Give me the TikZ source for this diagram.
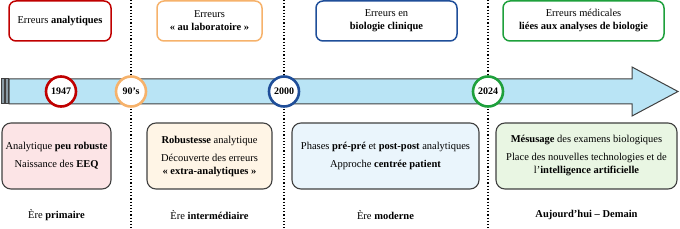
\documentclass[tikz,border=0pt]{standalone}
\usepackage{fontspec}
\setmainfont{Liberation Serif}
\definecolor{cred}{HTML}{C00000}
\definecolor{corange}{HTML}{F6B26B}
\definecolor{cblue}{HTML}{1F4E99}
\definecolor{cgreen}{HTML}{1EA03C}
\definecolor{fpink}{HTML}{FCE4E6}
\definecolor{fcream}{HTML}{FFF5E6}
\definecolor{fblue}{HTML}{EAF5FC}
\definecolor{fgreen}{HTML}{E9F6E3}
\definecolor{arrowfill}{HTML}{B9E4F5}
\definecolor{darkline}{HTML}{404040}
\definecolor{stripe}{HTML}{8C9CA6}
\begin{document}
\begin{tikzpicture}[x=1pt,y=-1pt,
  topbox/.style={draw, line width=1.5pt, rounded corners=7pt, fill=white, minimum height=40pt, align=center, inner sep=2pt, font=\fontsize{10.5}{13}\selectfont},
  botbox/.style={draw=darkline, line width=1.1pt, rounded corners=9pt, minimum height=66pt, align=center, inner sep=2pt, font=\fontsize{10.5}{13}\selectfont},
  yearcirc/.style={circle, draw, line width=2.6pt, fill=white, minimum size=30pt, inner sep=0pt, font=\bfseries\fontsize{10}{11}\selectfont},
  eralabel/.style={font=\fontsize{10.5}{12}\selectfont},
  sep/.style={dotted, line width=1.2pt, black}]
\useasboundingbox (0,0) rectangle (680,229);
% separators
\coordinate (s1t) at (131,0); \coordinate (s1b) at (131,229);
\coordinate (s2t) at (284,0); \coordinate (s2b) at (284,229);
\coordinate (s3t) at (488,0); \coordinate (s3b) at (488,229);
\draw[sep] (s1t) -- (s1b);
\draw[sep] (s2t) -- (s2b);
\draw[sep] (s3t) -- (s3b);
% arrow
\draw[darkline, line width=1pt, fill=stripe] (1.5,79) rectangle (4,104);
\draw[darkline, line width=1pt, fill=stripe] (5,79) rectangle (8,104);
\draw[darkline, line width=1pt, fill=arrowfill]
  (9,79) -- (632,79) -- (632,67) -- (678,91.5) -- (632,116) -- (632,104) -- (9,104) -- cycle;
% years
\node[yearcirc, draw=cred] (y1) at (61,91.5) {1947};
\node[yearcirc, draw=corange] (y2) at (131,91.5) {90’s};
\node[yearcirc, draw=cblue] (y3) at (284,91.5) {2000};
\node[yearcirc, draw=cgreen] (y4) at (488,91.5) {2024};
% top boxes
\node[topbox, draw=cred, minimum width=102pt] (t1) at (60,21) {Erreurs \textbf{analytiques}};
\node[topbox, draw=corange, minimum width=105pt] (t2) at (209.5,21) {Erreurs\\\textbf{«~au laboratoire~»}};
\node[topbox, draw=cblue, minimum width=141pt] (t3) at (386.5,21) {Erreurs en\\\textbf{biologie clinique}};
\node[topbox, draw=cgreen, minimum width=161pt] (t4) at (583.5,21) {Erreurs médicales\\\textbf{liées aux analyses de biologie}};
% bottom boxes
\node[botbox, fill=fpink, minimum width=109pt] (b1) at (56.5,156) {Analytique \textbf{peu robuste}\\[5pt]Naissance des \textbf{EEQ}};
\node[botbox, fill=fcream, minimum width=125pt] (b2) at (209.5,156) {\textbf{Robustesse} analytique\\[5pt]Découverte des erreurs\\\textbf{«~extra-analytiques~»}};
\node[botbox, fill=fblue, minimum width=187pt] (b3) at (385.5,156) {Phases \textbf{pré-pré} et \textbf{post-post} analytiques\\[5pt]Approche \textbf{centrée patient}};
\node[botbox, fill=fgreen, minimum width=181pt] (b4) at (586.5,156) {\textbf{Mésusage} des examens biologiques\\[5pt]Place des nouvelles technologies et de\\l’\textbf{intelligence artificielle}};
% era labels
\node[eralabel] (e1) at (56.5,215) {Ère \textbf{primaire}};
\node[eralabel] (e2) at (209.5,215) {Ère \textbf{intermédiaire}};
\node[eralabel] (e3) at (385.5,215) {Ère \textbf{moderne}};
\node[eralabel] (e4) at (586.5,215) {\textbf{Aujourd’hui – Demain}};
\end{tikzpicture}
\end{document}
